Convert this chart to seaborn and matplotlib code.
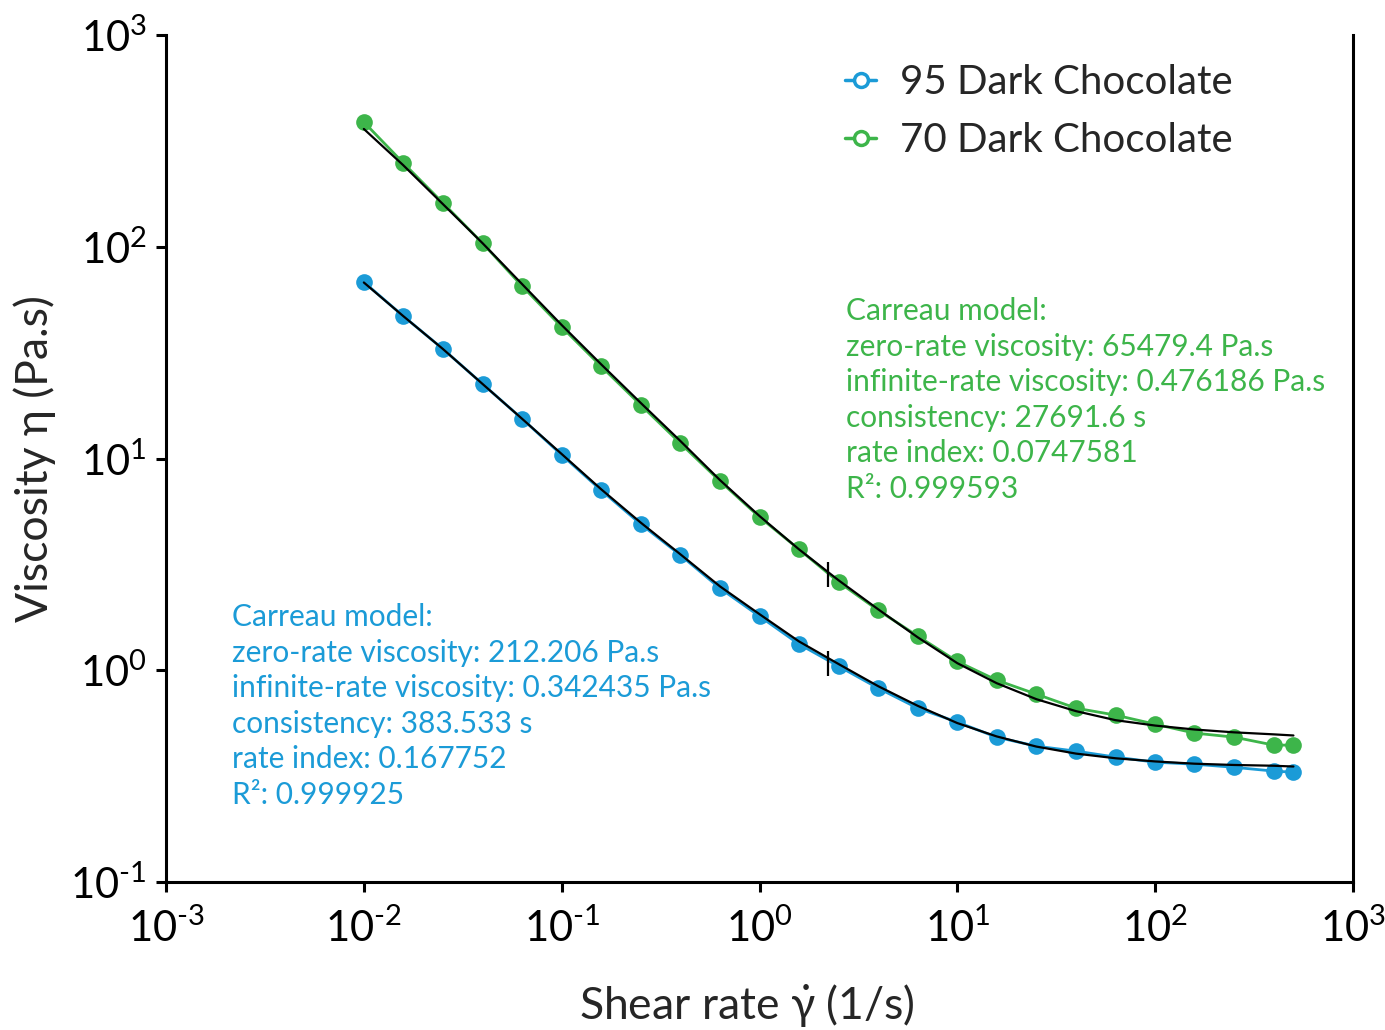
import numpy as np
import pandas as pd
import matplotlib
matplotlib.use("Agg")
import matplotlib.pyplot as plt
import matplotlib.ticker as mticker
from matplotlib.lines import Line2D
import seaborn as sns

# --- data ---
shear_rate = [0.01, 0.0158, 0.0251, 0.0398, 0.0631,
              0.1, 0.158, 0.251, 0.398, 0.631,
              1.0, 1.58, 2.51, 3.98, 6.31,
              10.0, 15.8, 25.1, 39.8, 63.1,
              100.0, 158.0, 251.0, 398.0, 500.0]

visc_95 = [68.1, 47.1, 32.9, 22.5, 15.4,
           10.4, 7.09, 4.90, 3.50, 2.44,
           1.80, 1.33, 1.045, 0.823, 0.662,
           0.569, 0.483, 0.438, 0.415, 0.389,
           0.368, 0.360, 0.348, 0.334, 0.330]

visc_70 = [388, 249, 161, 104, 65.2,
           41.8, 27.3, 17.9, 11.8, 7.82,
           5.29, 3.73, 2.61, 1.92, 1.45,
           1.10, 0.898, 0.771, 0.662, 0.614,
           0.556, 0.505, 0.483, 0.443, 0.443]

fit_95 = [67.8, 47.1, 32.9, 22.5, 15.4,
          10.5, 7.17, 4.98, 3.53, 2.49,
          1.84, 1.37, 1.07, 0.841, 0.679,
          0.563, 0.487, 0.436, 0.404, 0.384,
          0.371, 0.362, 0.357, 0.354, 0.351]

fit_70 = [360, 243, 159, 104, 66.6,
          42.7, 27.9, 18.3, 12.1, 7.91,
          5.35, 3.73, 2.66, 1.94, 1.43,
          1.08, 0.869, 0.730, 0.641, 0.581,
          0.548, 0.525, 0.509, 0.498, 0.492]

# short vertical marks on the fit curves
mark_x = [2.23, 2.23]
mark_y = [2.84, 1.08]

labels = ["95 Dark Chocolate", "70 Dark Chocolate"]
text_95 = ["Carreau model:",
           "zero-rate viscosity: 212.206 Pa.s",
           "infinite-rate viscosity: 0.342435 Pa.s",
           "consistency: 383.533 s",
           "rate index: 0.167752",
           "R\u00b2: 0.999925"]
text_70 = ["Carreau model:",
           "zero-rate viscosity: 65479.4 Pa.s",
           "infinite-rate viscosity: 0.476186 Pa.s",
           "consistency: 27691.6 s",
           "rate index: 0.0747581",
           "R\u00b2: 0.999593"]

BLUE = "#1b9bd7"
GREEN = "#3db54a"

# === STYLE ===
sns.set_style("ticks")
plt.rcParams['font.family'] = ['Lato', 'DejaVu Sans']
plt.rcParams['mathtext.fontset'] = 'custom'
plt.rcParams['mathtext.rm'] = 'Lato'
plt.rcParams['mathtext.default'] = 'regular'

df = pd.DataFrame({"rate": shear_rate, "v95": visc_95, "v70": visc_70,
                   "f95": fit_95, "f70": fit_70})

fig = plt.figure(figsize=(13.85, 10.3), dpi=100)
ax = fig.add_axes([166 / 1385, 1 - 882 / 1030, (1353 - 166) / 1385, (882 - 35) / 1030])

# data series
sns.lineplot(data=df, x="rate", y="v95", ax=ax, color=BLUE, lw=2,
             marker="o", markersize=12, markeredgewidth=0, legend=False)
sns.lineplot(data=df, x="rate", y="v70", ax=ax, color=GREEN, lw=2,
             marker="o", markersize=12, markeredgewidth=0, legend=False)
# fits
sns.lineplot(data=df, x="rate", y="f95", ax=ax, color="black", lw=1.6, legend=False)
sns.lineplot(data=df, x="rate", y="f70", ax=ax, color="black", lw=1.6, legend=False)
ax.plot(mark_x, mark_y, ls="none", marker="|", markersize=18,
        markeredgewidth=1.6, color="black")

ax.set_xscale("log")
ax.set_yscale("log")
ax.set_xlim(1e-3, 1e3)
ax.set_ylim(1e-1, 1e3)
ax.xaxis.set_major_locator(mticker.FixedLocator([1e-3, 1e-2, 1e-1, 1, 1e1, 1e2, 1e3]))
ax.yaxis.set_major_locator(mticker.FixedLocator([1e-1, 1, 1e1, 1e2, 1e3]))
ax.xaxis.set_minor_locator(mticker.NullLocator())
ax.yaxis.set_minor_locator(mticker.NullLocator())


def pow10(v, pos):
    e = int(round(np.log10(v)))
    if e < 0:
        return "$10^{\\text{-%d}}$" % (-e)
    return "$10^{%d}$" % e


ax.xaxis.set_major_formatter(mticker.FuncFormatter(pow10))
ax.yaxis.set_major_formatter(mticker.FuncFormatter(pow10))

for s in ["left", "bottom", "right"]:
    ax.spines[s].set_linewidth(2.2)
    ax.spines[s].set_color("black")
ax.spines["top"].set_visible(False)
ax.tick_params(axis="both", which="major", direction="out", length=7,
               width=2.2, labelsize=30, colors="black")
ax.tick_params(axis="x", pad=12)
ax.tick_params(axis="y", pad=7)

ax.set_xlabel("Shear rate $\\dot{\\gamma}$ (1/s)", fontsize=32, labelpad=16)
ax.xaxis.set_label_coords(0.489, -0.118, transform=ax.transAxes)
ax.set_ylabel("Viscosity \u03b7 (Pa.s)", fontsize=32, labelpad=10)

handles = [Line2D([], [], color=BLUE, lw=2.5, marker="o", markersize=10,
                  markerfacecolor="white", markeredgewidth=2.5),
           Line2D([], [], color=GREEN, lw=2.5, marker="o", markersize=10,
                  markerfacecolor="white", markeredgewidth=2.5)]
ax.legend(handles, labels, loc="upper left", bbox_to_anchor=(0.572, 0.966),
          frameon=False, fontsize=29, handlelength=0.78, handletextpad=0.58,
          labelspacing=0.52, borderpad=0, borderaxespad=0)

fig.text(232 / 1385, 1 - 603 / 1030, "\n".join(text_95), color=BLUE,
         fontsize=21.5, va="top", ha="left", linespacing=1.33)
fig.text(846 / 1385, 1 - 297 / 1030, "\n".join(text_70), color=GREEN,
         fontsize=21.5, va="top", ha="left", linespacing=1.33)

fig.savefig("out.png", dpi=100)
